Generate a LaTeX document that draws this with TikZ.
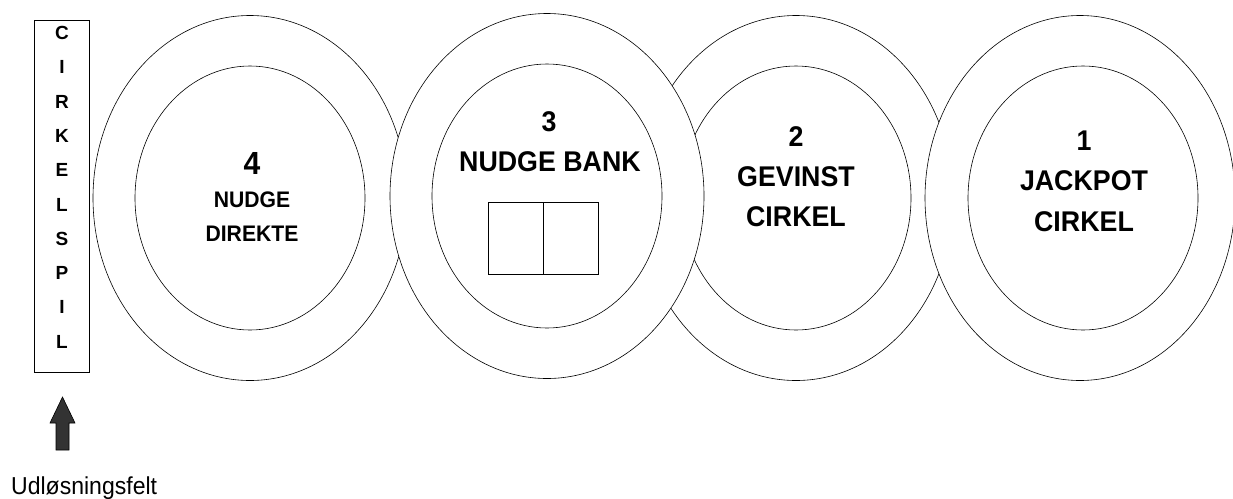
\documentclass[tikz,border=0pt]{standalone}
\usepackage{fontspec}
\setmainfont{Liberation Sans}
\newfontfamily\condfont{Liberation Sans}[FakeStretch=0.94]
\usetikzlibrary{shapes.geometric}
\tikzset{
  outerring/.style={ellipse, draw=black, line width=0.6pt, fill=white, minimum width=314pt, minimum height=365pt, inner sep=0pt},
  innerring/.style={ellipse, draw=black, line width=0.6pt, fill=white, minimum width=230pt, minimum height=264pt, inner sep=0pt},
  biglbl/.style={font=\condfont\bfseries\fontsize{28.5}{28.5}\selectfont, inner sep=0pt},
  midlbl/.style={font=\condfont\bfseries\fontsize{22.5}{22.5}\selectfont, inner sep=0pt},
  letterlbl/.style={font=\bfseries\fontsize{19}{19}\selectfont, inner sep=0pt},
  bankbox/.style={draw=black, line width=0.8pt, minimum width=55pt, minimum height=72pt, inner sep=0pt},
  sidebox/.style={draw=black, line width=0.8pt, minimum width=55pt, minimum height=352pt, inner sep=0pt},
}
\begin{document}
\begin{tikzpicture}[x=1pt, y=-1pt]
\useasboundingbox (0,0) rectangle (1233,498);
% circle 4
\node[outerring] (o4) at (250,198) {};
\node[innerring] (i4) at (250,198) {};
% circle 2
\node[outerring] (o2) at (796,198) {};
\node[innerring] (i2) at (796,198) {};
% circle 3
\node[outerring] (o3) at (547,196) {};
\node[innerring] (i3) at (547,196) {};
% circle 1
\node[outerring, minimum width=310pt] (o1) at (1080,198) {};
\node[innerring] (i1) at (1083,198) {};

% labels circle 4
\node[font=\condfont\bfseries\fontsize{32}{32}\selectfont, inner sep=0pt] (n4) at (252,163) {4};
\node[midlbl] (n4a) at (252,200) {NUDGE};
\node[midlbl] (n4b) at (252,234) {DIREKTE};
% labels circle 3
\node[biglbl] (n3) at (549,122) {3};
\node[biglbl] (n3a) at (550,162) {NUDGE BANK};
\node[bankbox] (b1) at (515.5,238) {};
\node[bankbox] (b2) at (570.5,238) {};
% labels circle 2
\node[biglbl] (n2) at (796,137) {2};
\node[biglbl] (n2a) at (796,177) {GEVINST};
\node[biglbl] (n2b) at (796,217) {CIRKEL};
% labels circle 1
\node[biglbl] (n1) at (1084,141) {1};
\node[biglbl] (n1a) at (1084,181) {JACKPOT};
\node[biglbl] (n1b) at (1084,222) {CIRKEL};

% side box
\node[sidebox] (side) at (61.5,196) {};
\foreach \ch [count=\i from 0] in {C,I,R,K,E,L,S,P,I,L} {
  \node[letterlbl] (s\i) at (62,{33+34.3*\i}) {\ch};
}

% arrow
\draw[fill=black!80, draw=black, line width=0.6pt]
  (62.5,397) -- (75,423) -- (69,423) -- (69,450) -- (56,450) -- (56,423) -- (50,423) -- cycle;
\node[font=\condfont\fontsize{24.5}{24.5}\selectfont, inner sep=0pt, anchor=base west] (trig) at (11,494) {Udløsningsfelt};
\end{tikzpicture}
\end{document}
